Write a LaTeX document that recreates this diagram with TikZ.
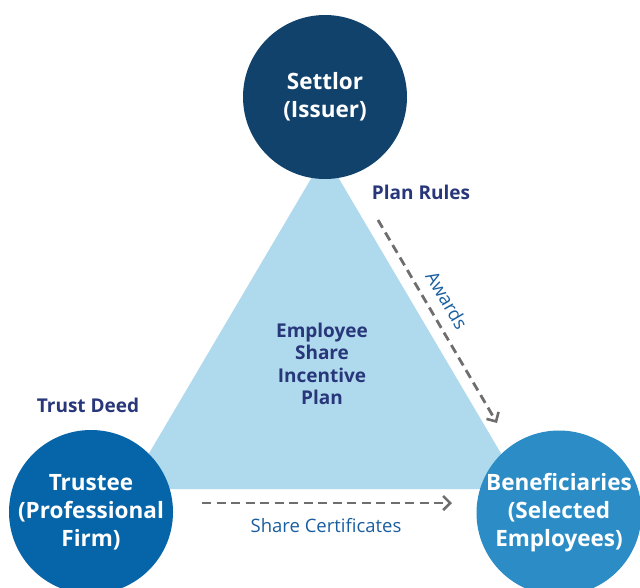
\documentclass[tikz,border=0pt]{standalone}
\usepackage{fontspec}
\setmainfont{Open Sans}
\usetikzlibrary{arrows.meta}
\definecolor{settlorc}{HTML}{11426B}
\definecolor{trusteec}{HTML}{0565A8}
\definecolor{benefc}{HTML}{2B8CC6}
\definecolor{trianglec}{HTML}{AFD9EC}
\definecolor{labelc}{HTML}{28377A}
\definecolor{arrowlabelc}{HTML}{1A5EA0}
\definecolor{arrowc}{HTML}{6E6E6E}
\tikzset{
  party/.style={circle, minimum size=164pt, inner sep=0pt, text=white, align=center,
    font=\fontsize{22.5}{28}\selectfont\bfseries},
  doclabel/.style={text=labelc, font=\fontsize{19}{22}\selectfont\bfseries, inner sep=0pt},
  flowlabel/.style={text=arrowlabelc, font=\fontsize{18.5}{22}\selectfont, inner sep=0pt},
  flow/.style={draw=arrowc, line width=2.8pt, dash pattern=on 9pt off 5.5pt,
    -{Straight Barb[length=7pt,width=14pt,line width=2.6pt]}}
}
\begin{document}
\begin{tikzpicture}[x=1pt,y=-1pt]
\useasboundingbox (0,0) rectangle (640,587);
\fill[white] (0,0) rectangle (640,587);
% triangle
\fill[trianglec] (325,155) -- (128,489) -- (522,489) -- cycle;
% parties
\node[party, fill=settlorc] (settlor) at (325,97) {Settlor\\(Issuer)};
\node[party, fill=trusteec] (trustee) at (91,512) {Trustee\\(Professional\\Firm)};
\node[party, fill=benefc] (benef) at (559,513) {Beneficiaries\\(Selected\\Employees)};
% centre text
\node[text=labelc, align=center, font=\fontsize{19}{22.5}\selectfont\bfseries] (plan) at (322,364) {Employee\\Share\\Incentive\\Plan};
% doc labels
\node[doclabel] (rules) at (421,192) {Plan Rules};
\node[doclabel] (deed) at (88,405) {Trust Deed};
% arrows
\coordinate (awS) at (378,220);
\coordinate (awE) at (497,423);
\draw[flow] (awS) -- (awE);
\node[flowlabel, rotate=-59.6] (awards) at (447,300) {Awards};
\coordinate (scS) at (202,503);
\coordinate (scE) at (452,503);
\draw[flow] (scS) -- (scE);
\node[flowlabel] (shares) at (326,526) {Share Certificates};
\end{tikzpicture}
\end{document}
